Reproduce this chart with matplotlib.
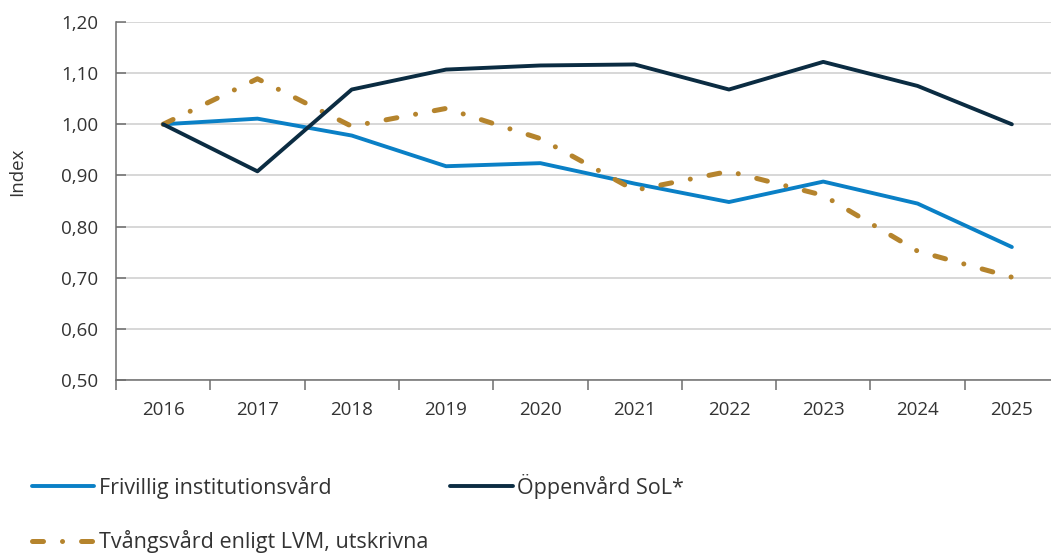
import matplotlib
matplotlib.use("Agg")
import matplotlib.pyplot as plt
import numpy as np
from matplotlib.ticker import FixedLocator, FuncFormatter, NullFormatter

plt.rcParams['font.family'] = ['Open Sans', 'DejaVu Sans']

years = ['2016', '2017', '2018', '2019', '2020', '2021', '2022', '2023', '2024', '2025']
frivillig = [1.000, 1.011, 0.978, 0.918, 0.924, 0.884, 0.848, 0.888, 0.845, 0.760]
oppenvard = [1.000, 0.908, 1.068, 1.107, 1.115, 1.117, 1.068, 1.122, 1.075, 1.000]
tvangsvard = [1.000, 1.089, 0.996, 1.031, 0.972, 0.871, 0.908, 0.861, 0.752, 0.701]

labels = ['Frivillig institutionsvård', 'Öppenvård SoL*', 'Tvångsvård enligt LVM, utskrivna']
yticks = [0.5, 0.6, 0.7, 0.8, 0.9, 1.0, 1.1, 1.2]

c_blue = '#0A80C6'
c_dark = '#0B2C42'
c_gold = '#B5842D'
c_text = '#333333'
c_axis = '#6E6E6E'

W, H = 1051, 553
fig = plt.figure(figsize=(W / 100, H / 100), dpi=100)
left, right, top, bottom = 116, 1059, 22, 380
ax = fig.add_axes([left / W, 1 - bottom / H, (right - left) / W, (bottom - top) / H])

x = np.arange(len(years))
l1, = ax.plot(x, frivillig, color=c_blue, lw=2.8, solid_capstyle='round', solid_joinstyle='round', zorder=3)
l2, = ax.plot(x, oppenvard, color=c_dark, lw=2.8, solid_capstyle='round', solid_joinstyle='round', zorder=4)
l3, = ax.plot(x, tvangsvard, color=c_gold, lw=3.6, linestyle=(0, (2.2, 3.8, 0.01, 3.8)),
              dash_capstyle='round', zorder=3)

ax.set_xlim(-0.5, len(years) - 0.5)
ax.set_ylim(0.5, 1.2)

ax.yaxis.set_major_locator(FixedLocator(yticks))
ax.yaxis.set_major_formatter(FuncFormatter(lambda v, p: f"{v:.2f}".replace('.', ',')))
ax.grid(axis='y', color='#D4D4D4', lw=1.3, zorder=0)
ax.set_axisbelow(True)

ax.xaxis.set_major_locator(FixedLocator(np.arange(-0.5, len(years), 1.0)))
ax.xaxis.set_major_formatter(NullFormatter())
ax.xaxis.set_minor_locator(FixedLocator(x))
ax.xaxis.set_minor_formatter(FuncFormatter(lambda v, p: years[int(round(v))]))
ax.tick_params(axis='x', which='major', direction='out', length=7, width=1.1, color=c_axis)
ax.tick_params(axis='x', which='minor', length=0, pad=15, labelsize=13.5, labelcolor=c_text)
ax.tick_params(axis='y', which='major', direction='in', length=7, width=1.1, color=c_axis,
               pad=13, labelsize=13.5, labelcolor=c_text)

for s in ['top', 'right']:
    ax.spines[s].set_visible(False)
for s in ['left', 'bottom']:
    ax.spines[s].set_color(c_axis)
    ax.spines[s].set_linewidth(1.1)

fig.text(17 / W, 1 - 172 / H, 'Index', rotation=90, ha='center', va='center',
         fontsize=13.5, color=c_text)

leg = fig.legend([l1, l3, l2], [labels[0], labels[2], labels[1]], ncol=2,
                 loc='upper left', bbox_to_anchor=(32 / W, 1 - 474 / H),
                 frameon=False, fontsize=15.5, handlelength=2.9, handletextpad=0.22,
                 columnspacing=1.0, labelspacing=1.45, borderpad=0, borderaxespad=0)
for t in leg.get_texts():
    t.set_color(c_text)

fig.savefig('out.png', dpi=100)
